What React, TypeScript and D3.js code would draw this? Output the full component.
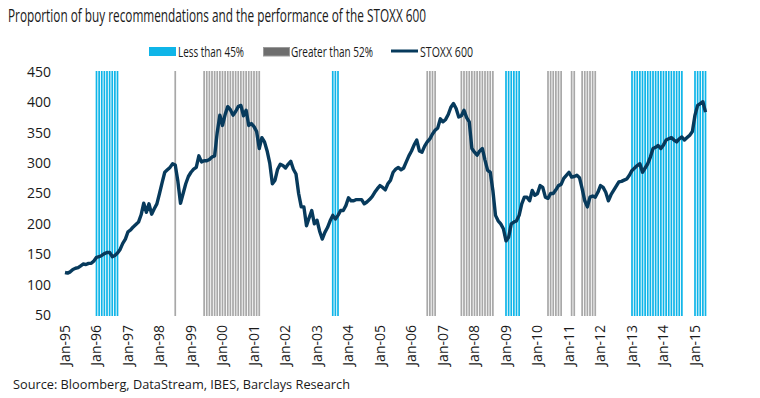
import * as d3 from 'd3';

// STOXX 600, monthly, Jan-95 .. May-15
const startYear = 1995;
const stoxx = [
  120, 119, 121, 125, 127, 128, 131, 134, 133, 135, 135, 139,
  145, 146, 148, 151, 153, 153, 146, 148, 152, 158, 168, 175,
  187, 190, 195, 199, 203, 215, 234, 219, 233, 216, 225, 233,
  250, 268, 285, 289, 293, 299, 297, 270, 234, 250, 266, 278,
  285, 290, 293, 312, 302, 304, 304, 306, 310, 312, 351, 379,
  362, 380, 393, 388, 379, 385, 393, 395, 378, 387, 362, 365,
  360, 352, 324, 342, 335, 320, 300, 266, 272, 290, 298, 296,
  292, 298, 303, 290, 282, 250, 228, 228, 197, 210, 222, 200,
  206, 188, 175, 186, 194, 205, 214, 208, 214, 222, 222, 230,
  243, 238, 238, 240, 240, 240, 233, 236, 240, 245, 252, 258,
  263, 260, 256, 266, 272, 285, 290, 293, 289, 292, 302, 312,
  320, 330, 338, 320, 318, 328, 335, 340, 348, 354, 358, 373,
  368, 372, 380, 392, 398, 390, 376, 378, 387, 375, 368, 324,
  318, 313, 320, 324, 305, 288, 285, 255, 214, 205, 200, 192,
  172, 178, 200, 203, 205, 214, 233, 244, 244, 238, 255, 247,
  250, 263, 260, 244, 242, 250, 250, 256, 263, 265, 275, 280,
  285, 277, 278, 280, 276, 258, 238, 228, 244, 246, 244, 252,
  263, 260, 252, 238, 248, 255, 262, 269, 270, 272, 274, 280,
  288, 292, 296, 299, 285, 292, 299, 310, 324, 326, 329, 324,
  330, 338, 340, 342, 338, 335, 340, 343, 338, 342, 346, 352,
  379, 395, 398, 401, 384,
];

// months where buy recommendations were below 45% / above 52%
const lowPeriods = [
  ['1996-01', '1996-09'],
  ['2003-07', '2003-09'],
  ['2009-01', '2009-06'],
  ['2013-01', '2014-08'],
  ['2015-01', '2015-05'],
];
const highPeriods = [
  ['1998-07', '1998-07'],
  ['1999-06', '2001-03'],
  ['2006-07', '2006-10'],
  ['2007-08', '2008-08'],
  ['2010-05', '2010-10'],
  ['2011-02', '2011-03'],
  ['2011-06', '2011-11'],
];

const yTicks = [50, 100, 150, 200, 250, 300, 350, 400, 450];
const xTickYears = d3.range(1995, 2016);

const monthIdx = (s: string) => {
  const [y, m] = s.split('-').map(Number);
  return (y - startYear) * 12 + (m - 1);
};
const expand = (periods: string[][]) =>
  periods.flatMap(([a, b]) => d3.range(monthIdx(a), monthIdx(b) + 1));

const W = 760;
const H = 398;
const font = '"Open Sans", "Noto Sans", sans-serif';
const cyan = '#0fb5e8';
const grey = '#a8a8a8';
const navy = '#073a5c';

export default function App() {
  const x = d3.scaleLinear().domain([0, 240]).range([65, 695]);
  const y = d3.scaleLinear().domain([50, 450]).range([315, 72]);

  const line = d3
    .line<number>()
    .x((_, i) => x(i))
    .y((d) => y(d));

  const barW = 1.7;
  const lows = expand(lowPeriods);
  const highs = expand(highPeriods);

  return (
    <svg
      width={W}
      height={H}
      style={{ position: 'absolute', left: 0, top: 0, background: '#fff' }}
      fontFamily={font}
    >
      <text x={8} y={22} fontSize={17.5} fill="#1a1a1a" textLength={418} lengthAdjust="spacingAndGlyphs">
        Proportion of buy recommendations and the performance of the STOXX 600
      </text>

      {/* legend */}
      <g fontSize={14} fill="#1a1a1a">
        <rect x={149} y={47} width={27} height={9} fill={cyan} />
        <text x={178} y={56.5} textLength={66} lengthAdjust="spacingAndGlyphs">Less than 45%</text>
        <rect x={263.5} y={47.5} width={26} height={8.5} fill="#6e6e6e" stroke="#9a9a9a" strokeWidth={1} />
        <text x={291} y={56.5} textLength={82} lengthAdjust="spacingAndGlyphs">Greater than 52%</text>
        <line x1={391} x2={418} y1={51} y2={51} stroke={navy} strokeWidth={3} />
        <text x={420} y={56.5} textLength={53} lengthAdjust="spacingAndGlyphs">STOXX 600</text>
      </g>

      {/* shaded months */}
      {highs.map((i) => (
        <rect key={'h' + i} x={x(i) - barW / 2} y={y(450) - 1} width={barW} height={y(50) - y(450) + 2} fill={grey} />
      ))}
      {lows.map((i) => (
        <rect key={'l' + i} x={x(i) - barW / 2} y={y(450) - 1} width={barW} height={y(50) - y(450) + 2} fill={cyan} />
      ))}

      <path d={line(stoxx) ?? ''} fill="none" stroke={navy} strokeWidth={3.4} strokeLinejoin="round" />

      {/* y axis labels */}
      {yTicks.map((t) => (
        <text key={t} x={51} y={y(t)} dy="0.35em" textAnchor="end" fontSize={14} fill="#1a1a1a">
          {t}
        </text>
      ))}

      {/* x axis labels */}
      {xTickYears.map((yr) => (
        <text
          key={yr}
          transform={`translate(${x((yr - startYear) * 12)},325) rotate(-90)`}
          dy="0.35em"
          textAnchor="end"
          fontSize={14}
          fill="#1a1a1a"
        >
          {`Jan-${String(yr % 100).padStart(2, '0')}`}
        </text>
      ))}

      <text x={13} y={389} fontSize={13} fill="#1a1a1a" textLength={337} lengthAdjust="spacingAndGlyphs">
        Source: Bloomberg, DataStream, IBES, Barclays Research
      </text>
    </svg>
  );
}
